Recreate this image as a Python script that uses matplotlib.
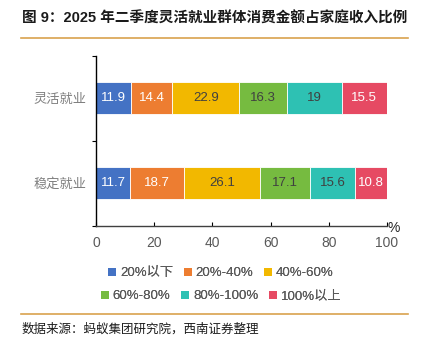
import matplotlib
matplotlib.use('Agg')
import matplotlib.pyplot as plt
from matplotlib.patches import Patch

plt.rcParams['font.family'] = ['Liberation Sans', 'Noto Sans CJK SC', 'DejaVu Sans']

# Data
groups = ['稳定就业', '灵活就业']
series = ['20%以下', '20%-40%', '40%-60%', '60%-80%', '80%-100%', '100%以上']
values = [
    [11.7, 11.9],   # 20%以下
    [18.7, 14.4],   # 20%-40%
    [26.1, 22.9],   # 40%-60%
    [17.1, 16.3],   # 60%-80%
    [15.6, 19.0],   # 80%-100%
    [10.8, 15.5],   # 100%以上
]
colors = ['#4472C4', '#ED7D31', '#F2B800', '#76BB40', '#2EC1B3', '#E64A63']
text_colors = ['white', 'white', '#404040', '#404040', '#404040', 'white']
xticks = [0, 20, 40, 60, 80, 100]

fig = plt.figure(figsize=(4.21, 3.43), dpi=100)
ax = fig.add_axes([0.228, 0.342, 0.691, 0.495])

ypos = list(range(len(groups)))
left = [0.0] * len(groups)
for vals, col, tc in zip(values, colors, text_colors):
    bars = ax.barh(ypos, vals, left=left, height=0.38, color=col,
                   edgecolor='white', linewidth=0.6)
    for b, v in zip(bars, vals):
        lbl = f'{v:g}'
        ax.text(b.get_x() + b.get_width() / 2, b.get_y() + b.get_height() / 2,
                lbl, ha='center', va='center', color=tc, fontsize=9.5)
    left = [l + v for l, v in zip(left, vals)]

ax.set_xlim(0, 100)
ax.set_ylim(-0.5, 1.5)
ax.set_xticks(xticks)
ax.set_xticklabels([str(t) for t in xticks], color='#595959', fontsize=10)
ax.tick_params(axis='x', direction='in', length=3, width=0.8, pad=7.5)

# category boundary ticks, labels at centres
ax.set_yticks([-0.5, 0.5, 1.5])
ax.set_yticklabels([])
ax.tick_params(axis='y', which='major', direction='out', length=3, width=0.8)
ax.set_yticks(ypos, minor=True)
ax.set_yticklabels(groups, minor=True, color='#7f7f7f', fontsize=9.5)
ax.tick_params(axis='y', which='minor', length=0, pad=7)

for s in ['top', 'right']:
    ax.spines[s].set_visible(False)
ax.spines['left'].set_linewidth(1.0)
ax.spines['bottom'].set_linewidth(1.0)
ax.spines['bottom'].set_color('#404040')

ax.text(1.003, -0.012, '%', transform=ax.transAxes, fontsize=10,
        color='#262626', ha='left', va='center')

# Title
fig.text(0.052, 0.945, '图 9：2025 年二季度灵活就业群体消费金额占家庭收入比例',
         fontsize=10.5, fontweight='bold', color='#1a1a1a', va='center')
fig.add_artist(plt.Line2D([0.05, 0.97], [0.888, 0.888], color='#D9A24E',
                          linewidth=1.2, transform=fig.transFigure))

# Legend, two rows of three
handles = [Patch(facecolor=c, edgecolor='none') for c in colors]
for row, yy in enumerate([0.203, 0.136]):
    h = handles[row * 3:row * 3 + 3]
    lab = series[row * 3:row * 3 + 3]
    leg = fig.legend(h, lab, loc='center', bbox_to_anchor=(0.525, yy), ncol=3,
                     frameon=False, fontsize=9.5, handlelength=0.6,
                     handleheight=0.6, handletextpad=0.3, columnspacing=0.8,
                     labelcolor='#595959', borderaxespad=0, borderpad=0)
    fig.add_artist(leg)

fig.add_artist(plt.Line2D([0.05, 0.97], [0.085, 0.085], color='#D9A24E',
                          linewidth=1.2, transform=fig.transFigure))
fig.text(0.052, 0.04, '数据来源：蚂蚁集团研究院，西南证券整理', fontsize=9,
         style='italic', color='#1a1a1a', va='center')

fig.savefig('out.png', dpi=100)
